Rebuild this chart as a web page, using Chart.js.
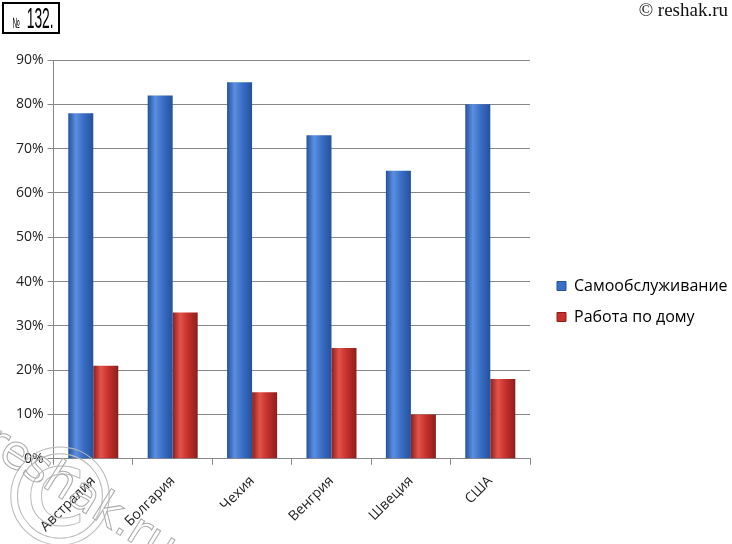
<!DOCTYPE html>
<html>
<head>
<meta charset="utf-8">
<script src="https://cdn.jsdelivr.net/npm/chart.js@4.4.0/dist/chart.umd.min.js"></script>
<style>
  body { margin: 0; background: #fff; width: 732px; height: 544px; overflow: hidden; position: relative; }
  #num { position: absolute; left: 2px; top: 2px; width: 54px; height: 28px; border: 2px solid #000; white-space: nowrap; overflow: hidden;
         font-family: "Liberation Sans", sans-serif; line-height: 28px; }
  #num span { display: inline-block; transform-origin: 0 50%; transform: scaleX(0.68); margin-left: 5px; }
  #num .n { font-size: 15px; }
  #num .d { font-size: 30px; }
  #copy { position: absolute; right: 4px; top: -1px; font-family: "Liberation Serif", serif; font-size: 19px; color: #111; }
  #wm { position: absolute; left: 4px; top: 412px; font-family: "DejaVu Sans", sans-serif; font-size: 46px;
        color: transparent; -webkit-text-stroke: 1px #aaa; transform-origin: 0 0; transform: rotate(32deg); }
  #wmc { position: absolute; left: -8px; top: 430px; font-family: "DejaVu Sans", sans-serif; font-size: 136px; line-height: 136px;
         color: transparent; -webkit-text-stroke: 1px #bbb; }
  canvas { position: absolute; left: 0; top: 0; }
</style>
</head>
<body>
<canvas id="c" width="732" height="544"></canvas>
<div id="num"><span><span class="n">№ </span><span class="d">132.</span></span></div>
<div id="copy">© reshak.ru</div>
<div id="wmc">©</div>
<div id="wm">reshak.ru</div>
<script>
const countries = ["Австралия", "Болгария", "Чехия", "Венгрия", "Швеция", "США"];
const selfService = [78, 82, 85, 73, 65, 80];
const houseWork = [21, 33, 15, 25, 10, 18];
const seriesNames = ["Самообслуживание", "Работа по дому"];

const catPct = 0.63;
const legendWidth = 202;

// cylinder-like shading across each bar
function shade(offset, dark, light, mid) {
    return function (c) {
        const xs = c.chart.scales.x;
        if (!xs || c.dataIndex == null) return mid;
        const cat = xs.width / countries.length;
        const group = cat * catPct;
        const cx = xs.getPixelForValue(c.dataIndex) + offset * group / 4;
        const w = group / 2;
        const g = c.chart.ctx.createLinearGradient(cx - w / 2, 0, cx + w / 2, 0);
        g.addColorStop(0, dark);
        g.addColorStop(0.3, light);
        g.addColorStop(0.6, mid);
        g.addColorStop(1, dark);
        return g;
    };
}

// fixed legend width, and push the items a bit away from the plot
const legendShift = {
    id: "legendShift",
    beforeLayout(chart) {
        const lg = chart.legend;
        if (lg && !lg._fixedFit) {
            const fit = lg.fit;
            lg.fit = function () {
                fit.call(this);
                this.width = legendWidth;
            };
            lg._fixedFit = true;
        }
    },
    afterLayout(chart) {
        chart.legend.left += 12;
        chart.legend.right += 12;
    }
};

const tickFont = { family: "Open Sans", size: 14 };

new Chart(document.getElementById("c"), {
    type: "bar",
    data: {
        labels: countries,
        datasets: [
            {
                label: seriesNames[0],
                data: selfService,
                backgroundColor: shade(-1, "#24519c", "#5b8fe0", "#3a6fc6"),
                borderWidth: 0
            },
            {
                label: seriesNames[1],
                data: houseWork,
                backgroundColor: shade(1, "#8c1f1c", "#e2534a", "#c6312c"),
                borderWidth: 0
            }
        ]
    },
    plugins: [legendShift],
    options: {
        responsive: false,
        animation: false,
        layout: { padding: { top: 60, left: 12, right: 0, bottom: 1 } },
        datasets: { bar: { categoryPercentage: catPct, barPercentage: 1 } },
        scales: {
            x: {
                grid: { display: true, drawOnChartArea: false, offset: true, color: "#888", tickLength: 6 },
                border: { color: "#888" },
                ticks: { font: tickFont, color: "#222", minRotation: 45, maxRotation: 45, padding: 8 }
            },
            y: {
                min: 0,
                max: 90,
                grid: { color: "#888", tickLength: 6 },
                border: { color: "#888" },
                ticks: {
                    stepSize: 10,
                    font: tickFont,
                    color: "#222",
                    padding: 4,
                    callback: v => v + "%"
                }
            }
        },
        plugins: {
            tooltip: { enabled: false },
            legend: {
                position: "right",
                labels: {
                    font: { family: "Open Sans", size: 16 },
                    color: "#222",
                    boxWidth: 9,
                    boxHeight: 9,
                    padding: 15,
                    generateLabels: chart => chart.data.datasets.map((d, i) => ({
                        text: d.label,
                        fillStyle: i === 0 ? "#3a6fc6" : "#c6312c",
                        strokeStyle: i === 0 ? "#24519c" : "#8c1f1c",
                        lineWidth: 1,
                        datasetIndex: i
                    }))
                }
            }
        }
    }
});
</script>
</body>
</html>
